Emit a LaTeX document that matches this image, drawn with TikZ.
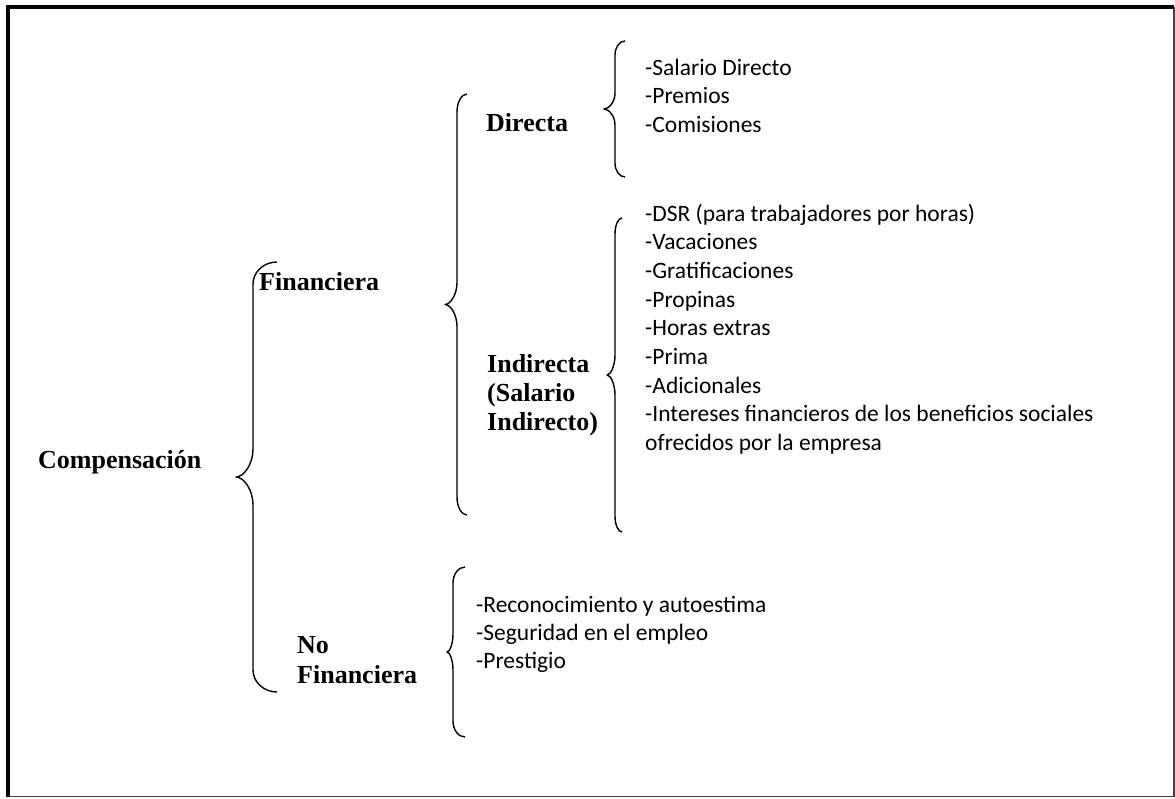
\documentclass[tikz,border=0pt]{standalone}
\usepackage{fontspec}
\setmainfont{Liberation Serif}
\newfontfamily\calibfont{Carlito}
\tikzset{
  lbl/.style={inner sep=0pt, anchor=base west, font=\fontsize{26}{29}\selectfont\bfseries},
  itm/.style={inner sep=0pt, anchor=base west, font=\calibfont\fontsize{23.5}{28.5}\selectfont},
  brace/.style={line width=1.4pt, line join=round},
}
% brace: #1 end x, #2 vertical x, #3 tip x, #4 top y, #5 bottom y, #6 end radius, #7 tip radius
\newcommand{\mybrace}[7]{%
  \pgfmathsetmacro{\bmid}{(#4+#5)/2}%
  \pgfmathsetmacro{\bdx}{0.45*(#1-#2)}%
  \pgfmathsetmacro{\bdt}{0.45*(#2-#3)}%
  \draw[brace] (#1,#4) .. controls (#2+\bdx,#4) and (#2,#4+0.45*#6) .. (#2,#4+#6)
     -- (#2,\bmid-#7) .. controls (#2,\bmid-0.45*#7) and (#3+\bdt,\bmid) .. (#3,\bmid)
     .. controls (#3+\bdt,\bmid) and (#2,\bmid+0.45*#7) .. (#2,\bmid+#7)
     -- (#2,#5-#6) .. controls (#2,#5-0.45*#6) and (#2+\bdx,#5) .. (#1,#5);}
\begin{document}
\begin{tikzpicture}[x=1pt,y=-1pt]
\useasboundingbox (0,0) rectangle (1175,798);
% frame
\coordinate (fTL) at (8,7);
\coordinate (fTR) at (1174,7);
\coordinate (fBL) at (8,796.5);
\coordinate (fBR) at (1174,796.5);
\draw[line width=1.6pt, black!75] (fTR) -- (fBR) -- (fBL);
\draw[line width=4pt] (fBL) -- (fTL) -- (fTR);

% braces
\mybrace{277}{253}{236}{262}{692}{22}{28}
\mybrace{467}{457}{445}{94}{515}{18}{22}
\mybrace{625}{615}{604}{41}{177}{14}{16}
\mybrace{622}{615}{607}{218}{532}{16}{20}
\mybrace{465}{453}{447}{567}{737}{16}{18}

% labels
\node[lbl] (comp) at (38,468) {Compensación};
\node[lbl] (fin) at (259,290) {Financiera};
\node[lbl] (dir) at (486,131) {Directa};
\node[lbl] (ind1) at (487,372) {Indirecta};
\node[lbl] (ind2) at (487,401) {(Salario};
\node[lbl] (ind3) at (487,430) {Indirecto)};
\node[lbl] (nof1) at (297,653) {No};
\node[lbl] (nof2) at (297,683) {Financiera};

% Directa items
\node[itm] (d1) at (645,75) {-Salario Directo};
\node[itm] (d2) at (645,103.5) {-Premios};
\node[itm] (d3) at (645,132) {-Comisiones};

% Indirecta items
\node[itm] (i1) at (645,221) {-DSR (para trabajadores por horas)};
\node[itm] (i2) at (645,249.7) {-Vacaciones};
\node[itm] (i3) at (645,278.4) {-Gratificaciones};
\node[itm] (i4) at (645,307.1) {-Propinas};
\node[itm] (i5) at (645,335.8) {-Horas extras};
\node[itm] (i6) at (645,364.5) {-Prima};
\node[itm] (i7) at (645,393.2) {-Adicionales};
\node[itm] (i8) at (645,421.9) {-Intereses financieros de los beneficios sociales};
\node[itm] (i9) at (645,450.6) {ofrecidos por la empresa};

% No financiera items
\node[itm] (n1) at (476,612) {-Reconocimiento y autoestima};
\node[itm] (n2) at (476,640) {-Seguridad en el empleo};
\node[itm] (n3) at (476,668) {-Prestigio};
\end{tikzpicture}
\end{document}
